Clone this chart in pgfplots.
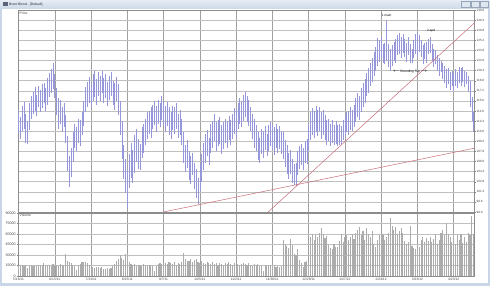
\documentclass[border=0pt]{standalone}
\usepackage{pgfplots}
\usepackage{pgfplotstable}
\pgfplotsset{compat=1.18}
\usepackage{fontspec}
\setmainfont{Liberation Sans}
\definecolor{pbar}{RGB}{150,150,218}
\definecolor{vbar}{RGB}{172,172,172}
\definecolor{trend}{RGB}{200,110,120}
\definecolor{hgrid}{RGB}{192,192,192}
\definecolor{vgrid}{RGB}{160,160,160}
\definecolor{axline}{RGB}{140,140,140}
\definecolor{winframe}{RGB}{200,214,232}
\definecolor{tbtop}{RGB}{230,236,245}
\definecolor{tbbot}{RGB}{204,216,232}
\definecolor{icon}{RGB}{90,100,120}
\definecolor{tbtext}{RGB}{40,40,60}
\definecolor{btnedge}{RGB}{150,165,185}
\definecolor{btnfill}{RGB}{222,230,240}

\pgfplotstableread{
i l h
0 110.5 114.2
1 109.6 113.0
2 110.8 114.8
3 111.2 115.4
4 109.0 113.6
5 108.7 112.4
6 111.0 115.2
7 112.8 116.4
8 113.5 117.0
9 114.0 117.8
10 113.2 116.6
11 114.6 118.0
12 113.8 117.4
13 114.5 118.2
14 115.2 118.5
15 114.0 117.6
16 115.0 119.2
17 116.2 120.0
18 116.8 120.6
19 117.5 121.6
20 116.0 119.8
21 113.4 117.6
22 111.2 116.0
23 112.0 115.8
24 110.6 114.6
25 111.5 115.2
26 109.0 113.4
27 104.5 110.0
28 102.0 106.8
29 103.6 108.2
30 106.0 110.6
31 108.2 112.0
32 107.6 111.4
33 109.0 112.8
34 108.4 112.6
35 110.2 113.8
36 111.6 115.6
37 113.8 117.8
38 114.6 118.6
39 115.2 119.4
40 114.4 118.2
41 115.6 119.8
42 116.2 120.4
43 115.0 119.0
44 116.4 120.2
45 115.6 119.6
46 116.8 120.4
47 115.2 119.2
48 116.0 119.8
49 114.8 118.6
50 115.8 119.6
51 116.4 120.2
52 115.0 118.8
53 114.2 118.4
54 115.6 119.4
55 113.4 118.2
56 110.2 115.6
57 106.4 112.4
58 103.2 108.6
59 101.0 106.4
60 98.6 104.6
61 101.8 107.2
62 103.4 109.0
63 102.6 107.8
64 104.2 110.2
65 106.0 111.2
66 104.8 109.6
67 104.6 108.8
68 106.6 111.4
69 107.4 112.0
70 108.6 112.8
71 109.6 113.8
72 110.4 114.0
73 109.8 114.6
74 111.2 115.0
75 111.8 115.6
76 110.6 114.8
77 112.0 115.8
78 111.4 115.2
79 112.6 116.4
80 111.8 115.6
81 110.6 114.8
82 111.6 115.4
83 110.2 114.6
84 109.6 113.8
85 111.0 114.8
86 110.4 114.6
87 111.2 115.2
88 109.8 113.6
89 110.2 114.2
90 108.6 112.8
91 105.8 110.6
92 104.4 108.6
93 105.0 109.4
94 103.0 107.6
95 102.4 106.8
96 103.8 107.4
97 101.6 105.8
98 100.2 104.8
99 99.2 103.4
100 101.4 105.6
101 102.8 107.2
102 104.6 109.0
103 105.8 110.4
104 106.8 111.0
105 105.4 109.8
106 107.4 112.0
107 108.2 112.4
108 109.2 113.6
109 107.6 112.2
110 108.4 112.6
111 108.8 113.0
112 107.2 111.8
113 108.0 112.2
114 109.0 112.8
115 108.2 112.4
116 109.4 113.2
117 108.6 112.6
118 109.6 113.6
119 110.4 114.4
120 109.8 114.2
121 111.2 115.2
122 112.0 116.0
123 111.4 115.6
124 112.4 116.6
125 113.0 117.0
126 112.2 116.4
127 111.6 115.8
128 110.8 114.6
129 109.6 113.6
130 108.2 112.8
131 107.6 111.8
132 106.2 110.6
133 105.8 109.8
134 107.2 111.2
135 106.6 110.8
136 107.8 111.6
137 106.8 110.4
138 107.6 111.8
139 108.4 112.2
140 107.8 111.8
141 107.0 111.4
142 108.2 112.0
143 107.4 111.2
144 108.0 111.6
145 107.2 110.8
146 106.4 110.6
147 105.2 109.4
148 104.0 108.6
149 103.2 107.4
150 104.0 107.8
151 102.6 106.4
152 102.2 105.6
153 102.1 105.8
154 103.8 107.6
155 104.8 108.4
156 105.4 108.8
157 104.6 108.2
158 105.8 109.2
159 105.6 109.6
160 107.6 111.8
161 109.4 113.8
162 110.2 114.4
163 109.8 114.0
164 110.6 114.8
165 110.0 114.2
166 110.8 114.6
167 109.6 113.8
168 110.2 114.2
169 109.4 113.4
170 108.6 112.6
171 109.2 112.8
172 108.4 112.0
173 109.0 112.6
174 108.6 111.8
175 108.8 112.4
176 108.4 111.8
177 108.6 112.0
178 108.7 111.6
179 109.4 112.6
180 110.0 113.2
181 110.6 113.8
182 110.2 114.0
183 111.0 114.6
184 110.8 114.2
185 111.4 115.0
186 112.2 116.0
187 113.0 116.8
188 112.6 116.4
189 113.8 117.6
190 114.6 118.4
191 115.2 119.0
192 116.4 120.0
193 116.8 120.8
194 118.0 121.6
195 118.6 122.4
196 119.6 123.4
197 120.4 124.2
198 121.2 125.6
199 121.8 125.2
200 122.4 125.8
201 121.6 124.6
202 121.4 124.8
203 122.0 128.4
204 121.0 124.6
205 120.4 123.8
206 121.2 124.4
207 122.0 125.0
208 121.6 125.4
209 122.8 126.0
210 123.0 126.4
211 122.4 125.8
212 123.2 126.2
213 122.6 125.4
214 121.8 124.8
215 122.8 125.8
216 121.6 124.6
217 121.6 123.8
218 122.4 125.2
219 123.0 126.2
220 122.6 126.4
221 123.4 126.0
222 122.6 125.2
223 121.4 124.4
224 122.2 124.8
225 121.6 125.0
226 123.0 125.4
227 123.2 125.8
228 122.0 124.6
229 121.0 123.8
230 121.4 123.6
231 120.4 122.8
232 119.6 122.4
233 120.2 122.0
234 119.0 121.6
235 118.4 121.2
236 117.6 120.6
237 118.2 120.8
238 117.4 120.2
239 118.0 120.4
240 117.2 119.8
241 118.0 120.6
242 117.6 120.2
243 118.4 121.0
244 118.0 120.8
245 118.6 121.0
246 117.8 120.4
247 118.2 120.2
248 117.0 119.6
249 114.6 118.8
250 112.4 116.2
251 110.6 113.8
}\price

\pgfplotstableread{
i v
0 14500
1 15200
2 15000
3 13800
4 15400
5 11800
6 14600
7 15200
8 14400
9 15800
10 14200
11 15600
12 16200
13 14800
14 19000
15 15400
16 16400
17 15800
18 14600
19 17200
20 16000
21 15400
22 14800
23 16600
24 15800
25 15000
26 31000
27 21000
28 19400
29 18600
30 16200
31 14400
32 8200
33 15000
34 16800
35 19600
36 20400
37 19800
38 18400
39 16000
40 13400
41 12800
42 11600
43 13200
44 12400
45 11000
46 12600
47 10400
48 9800
49 10800
50 9600
51 11200
52 14600
53 17400
54 21600
55 24800
56 30400
57 26000
58 22800
59 31000
60 28400
61 20600
62 16800
63 15400
64 17000
65 14800
66 16200
67 15600
68 14000
69 16600
70 15800
71 14400
72 15400
73 16000
74 13600
75 7200
76 14800
77 16600
78 18000
79 17400
80 15600
81 18400
82 16800
83 19600
84 18200
85 17000
86 19400
87 16400
88 18800
89 17800
90 20200
91 32400
92 24600
93 22000
94 21200
95 24400
96 20600
97 22800
98 23600
99 20000
100 18600
101 21400
102 19200
103 17600
104 20400
105 18400
106 16800
107 19800
108 17200
109 18600
110 16400
111 19000
112 17600
113 15800
114 18200
115 16600
116 19400
117 17000
118 15600
119 18000
120 16200
121 17800
122 15400
123 16800
124 19200
125 17400
126 15600
127 18400
128 16000
129 14800
130 17200
131 15800
132 16600
133 14400
134 13800
135 6800
136 15200
137 14600
138 15800
139 16400
140 14000
141 15600
142 13400
143 14800
144 12600
145 14200
146 52000
147 46000
148 43000
149 40000
150 53000
151 44000
152 32000
153 30000
154 38000
155 23000
156 18000
157 12600
158 20000
159 21000
160 19000
161 56000
162 60000
163 52000
164 58000
165 55000
166 62000
167 68000
168 60000
169 54000
170 57000
171 44000
172 40000
173 38000
174 45000
175 41000
176 42000
177 50000
178 60000
179 48000
180 56000
181 58000
182 52000
183 55000
184 60000
185 53000
186 62000
187 66000
188 70000
189 58000
190 64000
191 52000
192 68000
193 60000
194 55000
195 64000
196 45000
197 42000
198 52000
199 58000
200 55000
201 60000
202 52000
203 56000
204 61000
205 83000
206 72000
207 66000
208 70000
209 60000
210 64000
211 68000
212 62000
213 50000
214 46000
215 48000
216 72000
217 43000
218 40000
219 38000
220 44000
221 41000
222 52000
223 55000
224 48000
225 54000
226 50000
227 56000
228 49000
229 53000
230 60000
231 45000
232 52000
233 62000
234 65000
235 58000
236 75000
237 60000
238 55000
239 48000
240 62000
241 45000
242 58000
243 52000
244 60000
245 47000
246 56000
247 49000
248 62000
249 58000
250 85000
251 60000
}\vol

\begin{document}
\begin{tikzpicture}
% window frame
\fill[winframe] (0,0) rectangle (490bp,286bp);
\fill[white] (2bp,3bp) rectangle (488bp,277bp);
\shade[top color=tbtop, bottom color=tbbot] (0,277bp) rectangle (490bp,286bp);
\fill[icon] (3bp,279.5bp) rectangle (7.5bp,284bp);
\node[anchor=west, inner sep=0pt, font=\fontsize{3.4}{4}\selectfont, text=tbtext] at (9bp,281.8bp) {Brent Blend - [Default]};
\foreach \xa/\xb in {461/470,471.5/479,480.5/488} {
  \filldraw[draw=btnedge, fill=btnfill, line width=0.3bp] (\xa bp,279bp) rectangle (\xb bp,284.5bp);
}

% price panel
\begin{axis}[
  at={(18bp,74bp)}, anchor=south west, scale only axis,
  width=456bp, height=202bp,
  xmin=-0.3, xmax=251.2, ymin=98, ymax=130,
  xtick={0,20,...,240}, xticklabels={},
  ytick={98,99.6,101.2,102.8,104.4,106,107.6,109.2,110.8,112.4,114,115.6,117.2,118.8,120.4,122,123.6,125.2,126.8,128.4,130},
  minor y tick num=1,
  ytick pos=right, yticklabel pos=right,
  xtick style={draw=none},
  tick align=outside, major tick length=1.6bp, minor tick length=0.8bp,
  ytick style={gray, line width=0.3bp},
  yticklabel style={font=\fontsize{3.1}{3.5}\selectfont, text=darkgray, inner sep=0.8bp},
  /pgf/number format/.cd, fixed, fixed zerofill, precision=1, assume math mode=true,
  /pgfplots/.cd,
  grid=major,
  x grid style={vgrid, line width=0.5bp},
  y grid style={hgrid, line width=0.5bp},
  axis line style={axline, line width=0.4bp},
]
\addplot[pbar, line width=0.65bp, quiver={u=0, v=\thisrow{h}-\thisrow{l}}] table[x=i, y=l] {\price};
\addplot[trend, line width=0.5bp] coordinates {(79.9,98) (251.2,108.1)};
\addplot[trend, line width=0.5bp] coordinates {(137.7,98) (251.2,127.9)};
\node[font=\fontsize{3.2}{4}\selectfont, inner sep=0pt] at (axis cs:203,129.1) {1 main};
\node[font=\fontsize{3.2}{4}\selectfont, inner sep=0pt] at (axis cs:227.5,126.8) {2 apd};
\node[font=\fontsize{3.2}{4}\selectfont, inner sep=0pt] at (axis cs:216,120.3) {$\leftarrow$ Rounding Top $\rightarrow$};
\end{axis}

% volume panel
\begin{axis}[
  at={(18bp,10bp)}, anchor=south west, scale only axis,
  width=456bp, height=63bp,
  xmin=-0.3, xmax=251.2, ymin=0, ymax=90000,
  xtick={0,20,...,240},
  xticklabels={5/16/11,6/15/11,7/13/11,8/15/11,9/7/11,10/5/11,11/2/11,11/30/11,12/29/11,1/27/12,2/24/12,3/23/12,4/23/12},
  ytick={0,15000,30000,45000,60000,75000,90000},
  scaled y ticks=false,
  ytick pos=left, xtick pos=bottom,
  tick align=outside, major tick length=1.4bp,
  tick style={gray, line width=0.3bp},
  xticklabel style={font=\fontsize{3.3}{4}\selectfont, text=darkgray, inner sep=0.6bp},
  yticklabel style={font=\fontsize{3.6}{4}\selectfont, text=darkgray, inner sep=0.8bp},
  /pgf/number format/.cd, fixed, 1000 sep={}, assume math mode=true,
  /pgfplots/.cd,
  grid=major,
  x grid style={vgrid, line width=0.5bp},
  y grid style={hgrid, line width=0.5bp},
  axis line style={axline, line width=0.4bp},
]
\addplot[ycomb, vbar, line width=1.1bp] table[x=i, y=v] {\vol};
\end{axis}

\node[anchor=west, inner sep=0pt, font=\fontsize{3.4}{4}\selectfont, text=darkgray] at (19.5bp,273bp) {Price};
\node[anchor=west, inner sep=0pt, font=\fontsize{3.4}{4}\selectfont, text=darkgray] at (19.5bp,70.5bp) {Volume};

\pgfresetboundingbox
\path[use as bounding box] (0,0) rectangle (490bp,286bp);
\end{tikzpicture}
\end{document}
